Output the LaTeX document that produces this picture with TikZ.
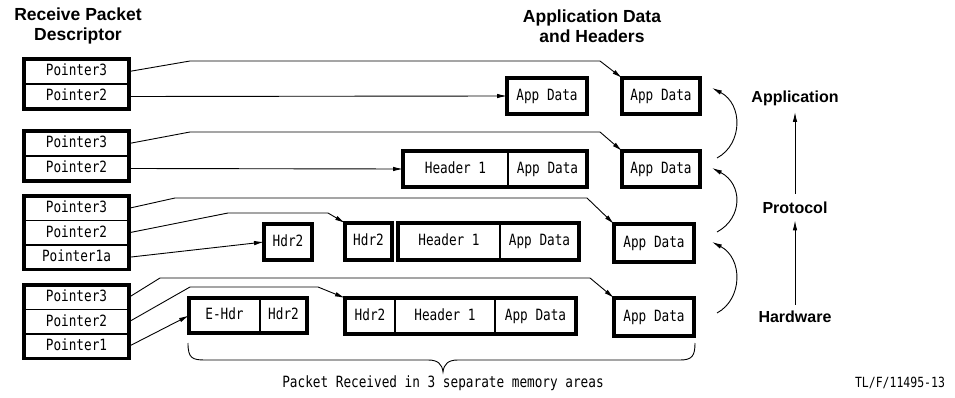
\documentclass[tikz,border=0pt]{standalone}
\usepackage{fontspec}
\setmainfont{Liberation Sans}
\newfontfamily\boxfont[FakeStretch=0.82]{DejaVu Sans Mono}
\usetikzlibrary{arrows.meta}
\tikzset{
  cell/.style={draw, line width=1.2pt, inner sep=0pt, outer sep=0pt, anchor=north west,
    font=\boxfont\fontsize{15.5}{15.5}\selectfont, text height=11.5pt, text depth=3pt},
  div/.style={line width=2.2pt},
  outerbox/.style={line width=3.5pt},
  conn/.style={line width=0.9pt},
  arr/.style={conn, -{Latex[length=10pt,width=4.5pt]}},
  ttl/.style={font=\bfseries\fontsize{17.5}{20}\selectfont, align=center},
  lbl/.style={font=\bfseries\fontsize{16}{16}\selectfont},
  mono/.style={font=\boxfont\fontsize{15.5}{15.5}\selectfont}
}
\begin{document}
\begin{tikzpicture}[x=1pt,y=-1pt]
\useasboundingbox (0,0) rectangle (955,398);

% titles
\node[ttl] (t1) at (78,26) {Receive Packet\\Descriptor};
\node[ttl] (t2) at (592,26) {Application Data\\and Headers};

% descriptor 1
\node[cell, minimum width=105pt, minimum height=25pt] (d1a) at (24,59) {Pointer3};
\node[cell, minimum width=105pt, minimum height=25pt] (d1b) at (24,84) {Pointer2};
\draw[outerbox] (d1a.north west) rectangle (d1b.south east);
% descriptor 2
\node[cell, minimum width=105pt, minimum height=25pt] (d2a) at (24,131) {Pointer3};
\node[cell, minimum width=105pt, minimum height=25pt] (d2b) at (24,156) {Pointer2};
\draw[outerbox] (d2a.north west) rectangle (d2b.south east);
% descriptor 3
\node[cell, minimum width=105pt, minimum height=24.5pt] (d3a) at (24,196) {Pointer3};
\node[cell, minimum width=105pt, minimum height=24.5pt] (d3b) at (24,220.5) {Pointer2};
\node[cell, minimum width=105pt, minimum height=24.5pt] (d3c) at (24,245) {Pointer1a};
\draw[outerbox] (d3a.north west) rectangle (d3c.south east);
% descriptor 4
\node[cell, minimum width=105pt, minimum height=24.5pt] (d4a) at (24,285) {Pointer3};
\node[cell, minimum width=105pt, minimum height=24.5pt] (d4b) at (24,309.5) {Pointer2};
\node[cell, minimum width=105pt, minimum height=24.5pt] (d4c) at (24,334) {Pointer1};
\draw[outerbox] (d4a.north west) rectangle (d4c.south east);

% right app data boxes
\node[cell, minimum width=78pt, minimum height=36pt] (r1) at (622,78) {App Data};
\draw[outerbox] (r1.north west) rectangle (r1.south east);
\node[cell, minimum width=78pt, minimum height=36pt] (r2) at (622,151) {App Data};
\draw[outerbox] (r2.north west) rectangle (r2.south east);
\node[cell, minimum width=80pt, minimum height=38pt] (r3) at (614,224) {App Data};
\draw[outerbox] (r3.north west) rectangle (r3.south east);
\node[cell, minimum width=80pt, minimum height=38pt] (r4) at (614,298) {App Data};
\draw[outerbox] (r4.north west) rectangle (r4.south east);

% middle row 1
\node[cell, minimum width=80pt, minimum height=36pt] (m1) at (507,78) {App Data};
\draw[outerbox] (m1.north west) rectangle (m1.south east);
% middle row 2
\node[cell, minimum width=105pt, minimum height=36pt] (m2h) at (403,151) {Header 1};
\node[cell, minimum width=79pt, minimum height=36pt] (m2a) at (508,151) {App Data};
\draw[div] (m2h.north east) -- (m2h.south east);
\draw[outerbox] (m2h.north west) rectangle (m2a.south east);
% middle row 3
\node[cell, minimum width=48pt, minimum height=36pt] (m3x) at (264,224) {Hdr2};
\draw[outerbox] (m3x.north west) rectangle (m3x.south east);
\node[cell, minimum width=47pt, minimum height=37pt] (m3h2) at (345,223) {Hdr2};
\draw[outerbox] (m3h2.north west) rectangle (m3h2.south east);
\node[cell, minimum width=102pt, minimum height=37pt] (m3h1) at (398,223) {Header 1};
\node[cell, minimum width=79pt, minimum height=37pt] (m3a) at (500,223) {App Data};
\draw[div] (m3h1.north east) -- (m3h1.south east);
\draw[outerbox] (m3h1.north west) rectangle (m3a.south east);
% middle row 4
\node[cell, minimum width=71pt, minimum height=35pt] (m4e) at (189,298) {E-Hdr};
\node[cell, minimum width=47pt, minimum height=35pt] (m4x) at (260,298) {Hdr2};
\draw[div] (m4e.north east) -- (m4e.south east);
\draw[outerbox] (m4e.north west) rectangle (m4x.south east);
\node[cell, minimum width=50pt, minimum height=36pt] (m4h2) at (345,298) {Hdr2};
\node[cell, minimum width=100pt, minimum height=36pt] (m4h1) at (395,298) {Header 1};
\node[cell, minimum width=81pt, minimum height=36pt] (m4a) at (495,298) {App Data};
\draw[div] (m4h2.north east) -- (m4h2.south east);
\draw[div] (m4h1.north east) -- (m4h1.south east);
\draw[outerbox] (m4h2.north west) rectangle (m4a.south east);

% connectors group 1
\draw[arr] (d1a.east) -- (190,61) -- (600,61) -- (r1.north west);
\draw[arr] (d1b.east) -- (m1.west);
% group 2
\draw[arr] (d2a.east) -- (190,132) -- (600,132) -- (r2.north west);
\draw[arr] (d2b.east) -- (m2h.west);
% group 3
\draw[arr] (d3a.east) -- (175,198) -- (587,198) -- (r3.north west);
\draw[arr] (d3b.east) -- (228,213) -- (328,213) -- (m3h2.north west);
\draw[arr] (d3c.east) -- (m3x.west);
% group 4
\draw[arr] (d4a.east) -- (160,278) -- (590,278) -- (r4.north west);
\draw[arr] (d4b.east) -- (190,287) -- (318,287) -- (m4h2.north west);
\draw[arr] (d4c.east) -- (m4e.west);

% curved arrows
\coordinate (c4) at (717,313);
\coordinate (c3t) at (712,242);
\coordinate (c3) at (717,232);
\coordinate (c2t) at (712,168);
\coordinate (c2) at (717,158);
\coordinate (c1t) at (712,88);
\draw[arr] (c4) .. controls (743,299) and (743,258) .. (c3t);
\draw[arr] (c3) .. controls (743,218) and (743,184) .. (c2t);
\draw[arr] (c2) .. controls (743,144) and (743,104) .. (c1t);

% right labels
\node[lbl] (appl) at (795,98) {Application};
\node[lbl] (proto) at (795,208) {Protocol};
\node[lbl] (hw) at (795,317) {Hardware};
\draw[arr, shorten <=5pt, shorten >=3pt] (proto.north) -- (appl.south);
\draw[arr, shorten <=3pt, shorten >=3pt] (hw.north) -- (proto.south);

% brace
\draw[conn] (188,343) .. controls (188,358) and (192,360) .. (205,360)
  -- (428,360) .. controls (438,360) and (442,364) .. (443,372)
  .. controls (444,364) and (448,360) .. (458,360)
  -- (680,360) .. controls (692,360) and (695,356) .. (695,343);
\node[mono] (cap) at (443,383) {Packet Received in 3 separate memory areas};
\node[font=\boxfont\fontsize{14}{14}\selectfont] (ref) at (900,383) {TL/F/11495-13};
\end{tikzpicture}
\end{document}
